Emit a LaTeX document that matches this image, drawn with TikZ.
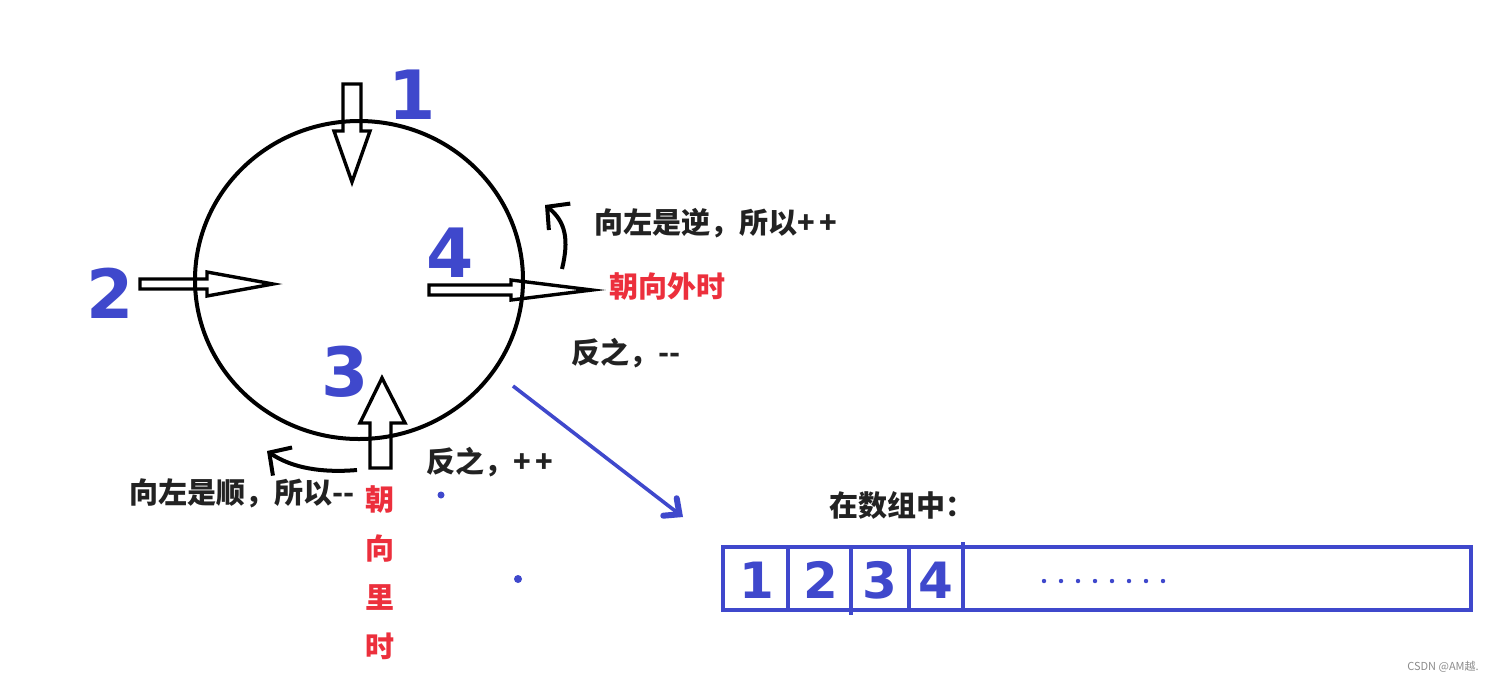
\documentclass[tikz,border=0pt]{standalone}
\usepackage{fontspec}
\usetikzlibrary{arrows.meta}
\newfontfamily\cjk{Noto Sans CJK SC}
\newfontfamily\digitfont{DejaVu Sans}
\usepackage{xcolor}
\definecolor{myblue}{HTML}{3F48CC}
\definecolor{myred}{HTML}{EC2F3C}
\definecolor{mytext}{HTML}{222222}
\tikzset{
  >=latex,
  ring/.style={line width=2pt,black},
  block arrow/.style={line width=1.7pt,black,line join=miter},
  note/.style={font=\cjk\bfseries\fontsize{14.5}{16}\selectfont,text=mytext,inner sep=0,anchor=west},
  note red/.style={note,text=myred},
  digit/.style={font=\digitfont\bfseries\fontsize{34}{36}\selectfont,text=myblue,inner sep=0},
  cell digit/.style={font=\digitfont\bfseries\fontsize{25}{27}\selectfont,text=myblue,inner sep=0},
  turn arrow/.style={-{Straight Barb[length=8,width=17]},line width=2pt,black},
  pointer/.style={-{Straight Barb[length=6,width=11,line width=3pt,line cap=round]},line width=1.8pt,myblue},
  cell/.style={line width=2pt,myblue},
  dot/.style={fill=myblue,draw=none}
}
\begin{document}
\begin{tikzpicture}[x=0.5pt,y=-0.5pt]
  \useasboundingbox[fill=white] (0,0) rectangle (1498,682);

  % block arrows into and out of the ring
  \draw[block arrow] (343,84) -- (361,84) -- (361,131) -- (370,131) -- (352,182) -- (334,131) -- (343,131) -- cycle;
  \draw[block arrow] (140,279) -- (207,279) -- (207,272) -- (273,284) -- (207,296) -- (207,289) -- (140,289) -- cycle;
  \draw[block arrow] (429,285) -- (511,285) -- (511,280) -- (592,290) -- (511,300) -- (511,295) -- (429,295) -- cycle;
  \draw[block arrow] (370,468) -- (370,423) -- (360,423) -- (382,378) -- (405,423) -- (391,423) -- (391,468) -- cycle;

  \draw[ring] (359,280) ellipse [x radius=164, y radius=159];

  % hand written numbers
  \node[digit] (n1) at (412,95) {1};
  \node[digit] (n2) at (110,293) {2};
  \node[digit] (n3) at (345,372) {3};
  \node[digit] (n4) at (450,253) {4};

  % notes
  \node[note] (outleft) at (594,223) {向左是逆，所以+\,+};
  \node[note red] (outward) at (609,286) {朝向外时};
  \node[note] (outelse) at (571,353) {反之，-{}-};
  \node[note] (inelse) at (426,462) {反之，+\,+};
  \node[note] (inleft) at (129,493) {向左是顺，所以-{}-};
  \node[align=center,text=myred,inner sep=0,font=\cjk\bfseries\fontsize{14.5}{24.5}\selectfont] (inward) at (380,573) {朝\\向\\里\\时};
  \node[note] (inarray) at (829,505) {在数组中：};

  % turning arrows
  \coordinate (t4a) at (562,269);
  \coordinate (t4b) at (545,205);
  \coordinate (t3a) at (357,470);
  \coordinate (t3b) at (267,451);
  \draw[turn arrow] (t4a) .. controls (569,240) and (566,222) .. (t4b);
  \draw[turn arrow] (t3a) .. controls (322,473) and (292,468) .. (t3b);

  % pointer to the array
  \coordinate (p0) at (513,386);
  \coordinate (p1) at (683,517);
  \draw[pointer] (p0) -- (p1);

  \fill[dot] (441,495) circle (3.5);
  \fill[dot] (518,579) circle (4);

  % the array
  \draw[cell] (723,547) rectangle (1471,610);
  \draw[cell,line width=1.6pt] (788,547) -- (788,610);
  \draw[cell,line width=1.6pt] (851,547) -- (851,615);
  \draw[cell,line width=1.6pt] (909,547) -- (909,610);
  \draw[cell,line width=1.6pt] (963,542) -- (963,610);
  \node[cell digit] (c1) at (757,580) {1};
  \node[cell digit] (c2) at (821,580) {2};
  \node[cell digit] (c3) at (880,580) {3};
  \node[cell digit] (c4) at (936,580) {4};
  \foreach \i in {0,...,7}
    \fill[dot] (1044+17*\i,581) circle (2.2);

  \node[text=black!45,inner sep=0,font=\fontsize{5.5}{6}\selectfont\cjk] (mark) at (1443,667) {CSDN @AM越.};
\end{tikzpicture}
\end{document}
